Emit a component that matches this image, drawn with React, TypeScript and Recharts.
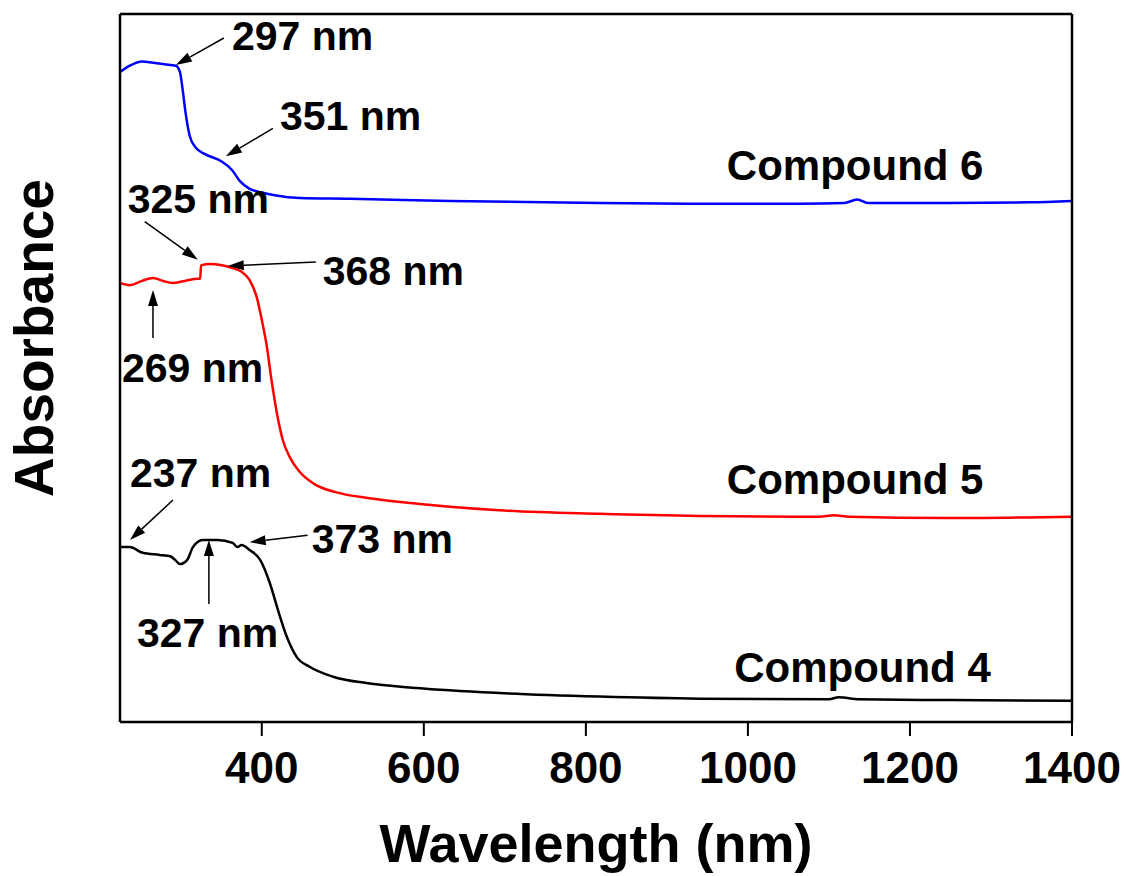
import React from 'react';
import {
  LineChart,
  Line,
  XAxis,
  YAxis,
  ReferenceDot,
  Label,
} from 'recharts';

// wavelength (nm) / absorbance (arb. units, offset stacked)
const compound6Nm = [225, 237, 252, 266, 280, 294, 299, 302, 306, 311, 318, 330, 350, 363, 373, 385, 400, 416, 447, 508, 632, 817, 940, 1063, 1119, 1135, 1149, 1248, 1347, 1400];
const compound6Abs = [91.8, 92.7, 93.3, 93.1, 92.9, 92.7, 91.8, 89.6, 86.0, 82.8, 81.2, 80.2, 79.2, 78.0, 76.4, 75.3, 74.8, 74.4, 74.0, 73.9, 73.6, 73.3, 73.2, 73.2, 73.3, 73.8, 73.3, 73.3, 73.4, 73.6];

const compound5Nm = [225, 237, 252, 266, 278, 290, 305, 321, 324, 325, 336, 351, 364, 375, 385, 394, 400, 406, 412, 419, 426, 435, 447, 465, 490, 533, 595, 693, 817, 940, 1088, 1106, 1125, 1248, 1400];
const compound5Abs = [62.0, 61.7, 62.3, 62.7, 62.3, 62.0, 62.3, 62.6, 62.6, 64.5, 64.7, 64.5, 64.1, 63.6, 62.4, 59.9, 56.8, 53.2, 48.3, 43.4, 39.8, 37.3, 35.3, 33.6, 32.5, 31.6, 30.8, 29.9, 29.4, 29.1, 29.0, 29.2, 29.0, 28.8, 29.0];

const compound4Nm = [225, 237, 253, 274, 287, 293, 299, 308, 315, 327, 345, 364, 370, 375, 385, 398, 410, 420, 431, 443, 459, 488, 529, 591, 693, 817, 940, 1100, 1112, 1137, 1248, 1400];
const compound4Abs = [24.7, 24.7, 23.9, 23.6, 23.4, 22.9, 22.3, 22.9, 24.7, 25.7, 25.7, 25.3, 24.7, 25.0, 24.3, 22.9, 19.6, 15.8, 12.0, 9.2, 7.8, 6.4, 5.5, 4.8, 4.1, 3.6, 3.3, 3.2, 3.5, 3.2, 3.1, 3.0];

const xTicks = [400, 600, 800, 1000, 1200, 1400];

const peakLabels = ['297 nm', '351 nm', '325 nm', '368 nm', '269 nm', '237 nm', '373 nm', '327 nm'];
const peakNm = [294, 355.7, 321, 358, 265.7, 237.3, 385, 334.7];
const peakAbs = [92.8, 79.9, 65.3, 64.4, 61.0, 25.7, 25.4, 25.7];

const seriesNames = ['Compound 6', 'Compound 5', 'Compound 4'];
const seriesLabelNm = [974, 974, 983];
const seriesLabelAbs = [76.6, 32.2, 5.65];

const toData = (nm: number[], abs: number[]) => nm.map((x, i) => ({ nm: x, abs: abs[i] }));
const data6 = toData(compound6Nm, compound6Abs);
const data5 = toData(compound5Nm, compound5Abs);
const data4 = toData(compound4Nm, compound4Abs);

const FONT = '"Liberation Sans", Arial, sans-serif';

// pixel offsets (tail of arrow, text start) relative to the arrow head
const peakLayout = [
  { tail: [48, -27], text: [56, -15] },
  { tail: [47, -28], text: [54, -26] },
  { tail: [-53, -38], text: [-70, -47] },
  { tail: [88, -4], text: [95, 19] },
  { tail: [0, 48], text: [-31, 92] },
  { tail: [43, -40], text: [0, -53] },
  { tail: [58, -7], text: [62, 11] },
  { tail: [0, 64], text: [-72, 107] },
];

const Arrow = ({ cx, cy, label, layout }: any) => {
  if (cx == null || cy == null) return null;
  const tx = cx + layout.tail[0];
  const ty = cy + layout.tail[1];
  const ang = Math.atan2(cy - ty, cx - tx);
  const len = 16;
  const hw = 5;
  const bx = cx - len * Math.cos(ang);
  const by = cy - len * Math.sin(ang);
  const px = -Math.sin(ang) * hw;
  const py = Math.cos(ang) * hw;
  return (
    <g>
      <line x1={tx} y1={ty} x2={bx} y2={by} stroke="#000" strokeWidth={1.5} />
      <polygon points={`${cx},${cy} ${bx + px},${by + py} ${bx - px},${by - py}`} fill="#000" />
      <text
        x={cx + layout.text[0]}
        y={cy + layout.text[1]}
        fontFamily={FONT}
        fontWeight="bold"
        fontSize={41}
        fill="#000"
      >
        {label}
      </text>
    </g>
  );
};

const NameLabel = ({ cx, cy, label }: any) => {
  if (cx == null || cy == null) return null;
  return (
    <text x={cx} y={cy} fontFamily={FONT} fontWeight="bold" fontSize={42} fill="#000">
      {label}
    </text>
  );
};

export default function App() {
  return (
    <div style={{ width: 1127, height: 876, background: '#fff' }}>
      <style>{'body{margin:0}'}</style>
      <LineChart width={1127} height={876} margin={{ top: 13, right: 54, bottom: 0, left: 119 }}>
        <XAxis
          dataKey="nm"
          type="number"
          domain={[225, 1400]}
          ticks={xTicks}
          allowDataOverflow
          height={154}
          axisLine={{ stroke: '#000', strokeWidth: 2.5 }}
          tickLine={{ stroke: '#000', strokeWidth: 2 }}
          tickSize={14}
          tickMargin={16}
          tick={{ fontSize: 44, fontWeight: 'bold', fill: '#000', fontFamily: FONT }}
        >
          <Label
            content={({ viewBox }: any) => (
              <text
                x={viewBox.x + viewBox.width / 2}
                y={viewBox.y + 140}
                textAnchor="middle"
                fontFamily={FONT}
                fontWeight="bold"
                fontSize={54}
                fill="#000"
              >
                Wavelength (nm)
              </text>
            )}
          />
        </XAxis>
        <XAxis
          xAxisId="top"
          orientation="top"
          dataKey="nm"
          type="number"
          domain={[225, 1400]}
          allowDataOverflow
          height={1}
          tick={false}
          tickLine={false}
          axisLine={{ stroke: '#000', strokeWidth: 2.5 }}
        />
        <YAxis
          type="number"
          domain={[0, 100]}
          allowDataOverflow
          width={1}
          tick={false}
          tickLine={false}
          axisLine={{ stroke: '#000', strokeWidth: 2.5 }}
        >
          <Label
            content={({ viewBox }: any) => {
              const x = 53;
              const y = viewBox.y + viewBox.height / 2 - 30;
              return (
                <text
                  x={x}
                  y={y}
                  transform={`rotate(-90, ${x}, ${y})`}
                  textAnchor="middle"
                  fontFamily={FONT}
                  fontWeight="bold"
                  fontSize={55}
                  fill="#000"
                >
                  Absorbance
                </text>
              );
            }}
          />
        </YAxis>
        <YAxis
          yAxisId="right"
          orientation="right"
          type="number"
          domain={[0, 100]}
          allowDataOverflow
          width={1}
          tick={false}
          tickLine={false}
          axisLine={{ stroke: '#000', strokeWidth: 2.5 }}
        />
        <Line data={data6} dataKey="abs" type="monotone" stroke="#0000ff" strokeWidth={2.5} dot={false} isAnimationActive={false} />
        <Line data={data5} dataKey="abs" type="monotone" stroke="#ff0000" strokeWidth={2.5} dot={false} isAnimationActive={false} />
        <Line data={data4} dataKey="abs" type="monotone" stroke="#000000" strokeWidth={2.5} dot={false} isAnimationActive={false} />
        {peakLabels.map((lab, i) => (
          <ReferenceDot
            key={lab}
            x={peakNm[i]}
            y={peakAbs[i]}
            r={0}
            shape={(p: any) => <Arrow cx={p.cx} cy={p.cy} label={lab} layout={peakLayout[i]} />}
          />
        ))}
        {seriesNames.map((name, i) => (
          <ReferenceDot
            key={name}
            x={seriesLabelNm[i]}
            y={seriesLabelAbs[i]}
            r={0}
            shape={(p: any) => <NameLabel cx={p.cx} cy={p.cy} label={name} />}
          />
        ))}
      </LineChart>
    </div>
  );
}
